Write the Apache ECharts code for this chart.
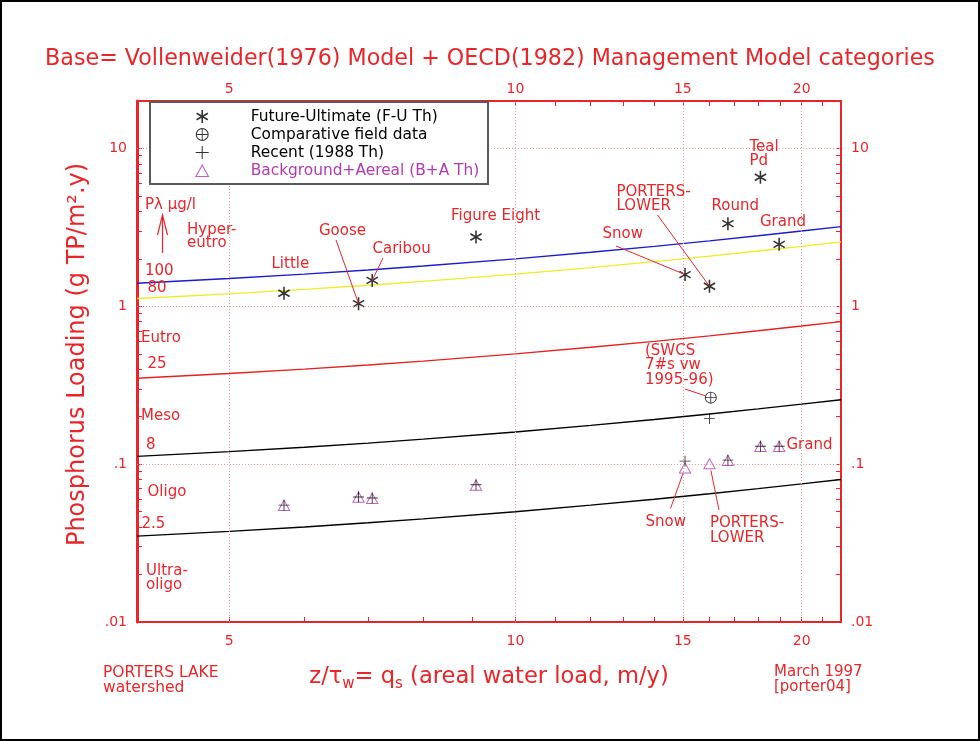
<!DOCTYPE html>
<html><head><meta charset="utf-8">
<script src="https://cdn.jsdelivr.net/npm/echarts@6/dist/echarts.min.js"></script>
<style>html,body{margin:0;padding:0;background:#fff}#c{width:980px;height:741px}</style>
</head><body><div id="c"></div>
<script>
// ---- data ----
const lakes = ['Little','Goose','Caribou','Figure Eight','Snow','PORTERS-LOWER','Round','Teal Pd','Grand'];
const qs = [5.71, 6.84, 7.07, 9.09, 15.08, 16.0, 16.73, 18.1, 18.94];
const futureUltimate = [1.21, 1.04, 1.46, 2.75, 1.59, 1.34, 3.34, 6.58, 2.47];
const recent = [0.055, 0.062, 0.061, 0.074, 0.1045, 0.195, 0.106, 0.130, 0.130];
const backgroundAereal = [0.055, 0.062, 0.061, 0.074, 0.095, 0.101, 0.106, 0.130, 0.130];
const fieldQs = [16.05];
const fieldLoad = [0.264];
const modelQs = [4, 5, 6, 7, 8, 10, 12, 14, 16, 18, 20, 22];
const line100 = [1.40, 1.50, 1.60, 1.70, 1.80, 2.00, 2.20, 2.40, 2.60, 2.80, 3.00, 3.20];
const line80  = [1.12, 1.20, 1.28, 1.36, 1.44, 1.60, 1.76, 1.92, 2.08, 2.24, 2.40, 2.56];
const line25  = [0.35, 0.375, 0.40, 0.425, 0.45, 0.50, 0.55, 0.60, 0.65, 0.70, 0.75, 0.80];
const line8   = [0.112, 0.12, 0.128, 0.136, 0.144, 0.16, 0.176, 0.192, 0.208, 0.224, 0.24, 0.256];
const line2_5 = [0.035, 0.0375, 0.04, 0.0425, 0.045, 0.05, 0.055, 0.06, 0.065, 0.07, 0.075, 0.08];
const xTickLabels = [5, 10, 15, 20];
const yTickLabels = [0.01, 0.1, 1, 10];
const xMinorTicks = [5,6,7,8,9,10,11,12,13,14,15,16,17,18,19,20,21];
const yMinorTicks = [0.02,0.03,0.04,0.05,0.06,0.07,0.08,0.09,0.1,0.2,0.3,0.4,0.5,0.6,0.7,0.8,0.9,1,2,3,4,5,6,7,8,9,10];

// ---- styling ----
const RED = '#e8262a';
const PURPLE = '#b23ab0';
const FONT = '"DejaVu Sans", sans-serif';
const STAR = 'path://M8.8 0 L11.2 0 L11.2 20 L8.8 20 Z M0.74 6.04 L1.94 3.96 L19.26 13.96 L18.06 16.04 Z M0.74 13.96 L18.06 3.96 L19.26 6.04 L1.94 16.04 Z';
const PLUS = 'path://M9.2 0 L10.8 0 L10.8 20 L9.2 20 Z M0 9.2 L20 9.2 L20 10.8 L0 10.8 Z';
const OPLUS = 'path://M20 10 A10 10 0 1 1 0 10 A10 10 0 1 1 20 10 Z M18.4 10 A8.4 8.4 0 1 0 1.6 10 A8.4 8.4 0 1 0 18.4 10 Z M9.3 1.6 L10.7 1.6 L10.7 18.4 L9.3 18.4 Z M1.6 9.3 L18.4 9.3 L18.4 10.7 L1.6 10.7 Z';
const TRI = 'path://M10 1 L20 19 L0 19 Z M10 4.09 L2.55 17.5 L17.45 17.5 Z';

const pairs = (xs, ys) => xs.map((x, i) => [x, ys[i]]);
const fmtNum = v => { const s = String(+(+v).toPrecision(3)); return s.replace(/^0\./, '.'); };

function xAxisCfg(pos) {
  return {
    type: 'log', logBase: 10, min: 4, max: 22, position: pos,
    axisLine: { show: true, onZero: false, lineStyle: { color: RED, width: 2 } },
    axisTick: { show: true, inside: true, length: 5, customValues: xMinorTicks, lineStyle: { color: RED, width: 1 } },
    axisLabel: { customValues: xTickLabels, formatter: fmtNum, color: RED, fontSize: 14, fontFamily: FONT, margin: pos === 'top' ? 5 : 12 },
    splitLine: { show: false }, minorTick: { show: false }
  };
}
function yAxisCfg(pos) {
  return {
    type: 'log', logBase: 10, min: 0.01, max: 20, position: pos,
    axisLine: { show: true, onZero: false, lineStyle: { color: RED, width: pos === 'left' ? 3 : 2 } },
    axisTick: { show: true, inside: true, length: 5, customValues: yMinorTicks, lineStyle: { color: RED, width: 1 } },
    axisLabel: { customValues: yTickLabels, formatter: fmtNum, color: RED, fontSize: 14, fontFamily: FONT, margin: 10 },
    splitLine: { show: false }, minorTick: { show: false }
  };
}

const chart = echarts.init(document.getElementById('c'), null, { renderer: 'canvas' });

const xa0 = xAxisCfg('bottom');
xa0.name = '{m|z/τ}{s|w}{m|= q}{s|s}{m| (areal water load, m/y)}';
xa0.nameLocation = 'middle';
xa0.nameGap = 44;
xa0.nameTextStyle = {
  rich: {
    m: { fontSize: 22.6, fontFamily: FONT, color: RED, lineHeight: 26, verticalAlign: 'top' },
    s: { fontSize: 15, fontFamily: FONT, color: RED, lineHeight: 15, padding: [16, 0, 0, 0], verticalAlign: 'bottom' }
  }
};
const ya0 = yAxisCfg('left');
ya0.name = 'Phosphorus Loading (g TP/m².y)';
ya0.nameLocation = 'middle';
ya0.nameGap = 47;
ya0.nameTextStyle = { fontSize: 24, fontFamily: FONT, color: RED, padding: [0, 0, 0, 14] };

const lineSeries = (name, data, color) => ({
  name, type: 'line', data: pairs(modelQs, data), showSymbol: false, symbol: 'none',
  lineStyle: { color, width: 1.4 }, silent: true, z: 2
});

const option = {
  animation: false,
  backgroundColor: '#fff',
  title: {
    text: 'Base= Vollenweider(1976) Model + OECD(1982) Management Model categories',
    left: 'center', top: 43,
    textStyle: { color: RED, fontSize: 22.2, fontWeight: 'normal', fontFamily: FONT }
  },
  grid: { left: 137, top: 101, width: 704, height: 521 },
  xAxis: [xa0, xAxisCfg('top')],
  yAxis: [ya0, yAxisCfg('right')],
  legend: {
    orient: 'vertical', left: 195, top: 108, itemWidth: 87, itemHeight: 13, itemGap: 1,
    padding: 0, z: 20, selectedMode: false, symbolKeepAspect: true,
    textStyle: { fontSize: 15.4, fontFamily: FONT, color: '#000', lineHeight: 17 },
    data: [
      { name: 'Future-Ultimate (F-U Th)' },
      { name: 'Comparative field data' },
      { name: 'Recent (1988 Th)' },
      { name: 'Background+Aereal (B+A Th)', textStyle: { color: PURPLE } }
    ]
  },
  series: [
    Object.assign(lineSeries('P 100', line100, '#1c1cc8'), {
      markLine: {
        silent: true, symbol: ['none', 'none'], label: { show: false },
        lineStyle: { color: '#f19a9a', width: 1, type: [1, 2] },
        data: [{ xAxis: 5 }, { xAxis: 10 }, { xAxis: 15 }, { xAxis: 20 }, { yAxis: 10 }, { yAxis: 1 }, { yAxis: 0.1 }]
      }
    }),
    lineSeries('P 80', line80, '#ecec2c'),
    lineSeries('P 25', line25, '#e42222'),
    lineSeries('P 8', line8, '#000000'),
    lineSeries('P 2.5', line2_5, '#000000'),
    {
      name: 'Background+Aereal (B+A Th)', type: 'scatter', data: pairs(qs, backgroundAereal),
      symbol: TRI, symbolSize: 13, symbolKeepAspect: true,
      itemStyle: { color: PURPLE }, z: 3
    },
    {
      name: 'Recent (1988 Th)', type: 'scatter', data: pairs(qs, recent),
      symbol: PLUS, symbolSize: 11, symbolKeepAspect: true,
      itemStyle: { color: '#000' }, z: 4
    },
    {
      name: 'Future-Ultimate (F-U Th)', type: 'scatter', data: pairs(qs, futureUltimate),
      symbol: STAR, symbolSize: 13, symbolKeepAspect: true,
      itemStyle: { color: '#000' }, z: 4
    },
    {
      name: 'Comparative field data', type: 'scatter', data: pairs(fieldQs, fieldLoad),
      symbol: OPLUS, symbolSize: 12, symbolKeepAspect: true,
      itemStyle: { color: '#000' }, z: 4
    }
  ]
};
chart.setOption(option);

// ---- annotations (text placed in the page, leaders end at data points) ----
const catLabels = [
  ['Pλ µg/l', 145, 205], ['Hyper-', 187, 230], ['eutro', 187, 243.5], ['100', 145, 271.5], ['80', 147.5, 288.5],
  ['Eutro', 141, 338.5], ['25', 147.5, 364], ['Meso', 141, 416.5], ['8', 146, 445.5], ['Oligo', 147.5, 492.5],
  ['2.5', 141.5, 524.5], ['Ultra-', 146, 571.5], ['oligo', 146, 585]
];
const lakeLabels = [
  ['Little', 271.5, 264], ['Goose', 319, 231], ['Caribou', 372.5, 249], ['Figure Eight', 451, 216],
  ['Teal', 749.5, 147.5], ['Pd', 749.5, 161], ['PORTERS-', 616.5, 192.5], ['LOWER', 616.5, 206.5],
  ['Round', 711.5, 206.5], ['Grand', 760, 222], ['Snow', 602.5, 234],
  ['(SWCS', 645, 351.5], ['7#s vw', 645, 365.5], ['1995-96)', 645, 380],
  ['Grand', 786.5, 445.5], ['Snow', 645.5, 522.5], ['PORTERS-', 710, 523], ['LOWER', 710, 538]
];
const leaders = [
  { from: [336, 240], to: [qs[1], futureUltimate[1]], cut: 0 },
  { from: [383, 258], to: [qs[2], futureUltimate[2]], cut: 0 },
  { from: [616, 246], to: [qs[4], futureUltimate[4]], cut: 1 },
  { from: [657.5, 215], to: [qs[5], futureUltimate[5]], cut: 0 },
  { from: [685, 389], to: [fieldQs[0], fieldLoad[0]], cut: 6 },
  { from: [670.5, 508.5], to: [qs[4], backgroundAereal[4]], cut: 6 },
  { from: [719, 510], to: [qs[5], backgroundAereal[5]], cut: 7 }
];
const g = [];
g.push({ type: 'rect', shape: { x: 1, y: 1, width: 978, height: 739 }, style: { fill: 'none', stroke: '#000', lineWidth: 2 }, z: 30, silent: true });
g.push({ type: 'rect', shape: { x: 150, y: 102, width: 338, height: 82 }, style: { fill: '#fff', stroke: '#5a5a5a', lineWidth: 2 }, z: 10, silent: true });
const txt = (t, x, y, size) => ({ type: 'text', x, y, silent: true, z: 12,
  style: { text: t, fill: RED, fontSize: size || 15, fontFamily: FONT, align: 'left', verticalAlign: 'middle' } });
catLabels.forEach(a => g.push(txt(a[0], a[1], a[2])));
lakeLabels.forEach(a => g.push(txt(a[0], a[1], a[2])));
g.push(txt('PORTERS LAKE', 103, 673, 15.5), txt('watershed', 103, 688, 15.5), txt('March 1997', 774, 672, 15), txt('[porter04]', 774, 687, 15));
// arrow
g.push({ type: 'polyline', shape: { points: [[162.5, 253], [162.5, 216]] }, style: { stroke: RED, lineWidth: 1.2, fill: 'none' }, z: 12, silent: true });
g.push({ type: 'polyline', shape: { points: [[157.5, 235], [162.5, 215], [167.5, 235]] }, style: { stroke: RED, lineWidth: 1.2, fill: 'none' }, z: 12, silent: true });
leaders.forEach(l => {
  const p = chart.convertToPixel({ xAxisIndex: 0, yAxisIndex: 0 }, l.to);
  const dx = p[0] - l.from[0], dy = p[1] - l.from[1], d = Math.hypot(dx, dy);
  const k = (d - l.cut) / d;
  g.push({ type: 'line', shape: { x1: l.from[0], y1: l.from[1], x2: l.from[0] + dx * k, y2: l.from[1] + dy * k },
    style: { stroke: RED, lineWidth: 1 }, z: 12, silent: true });
});
chart.setOption({ graphic: g });
</script></body></html>
